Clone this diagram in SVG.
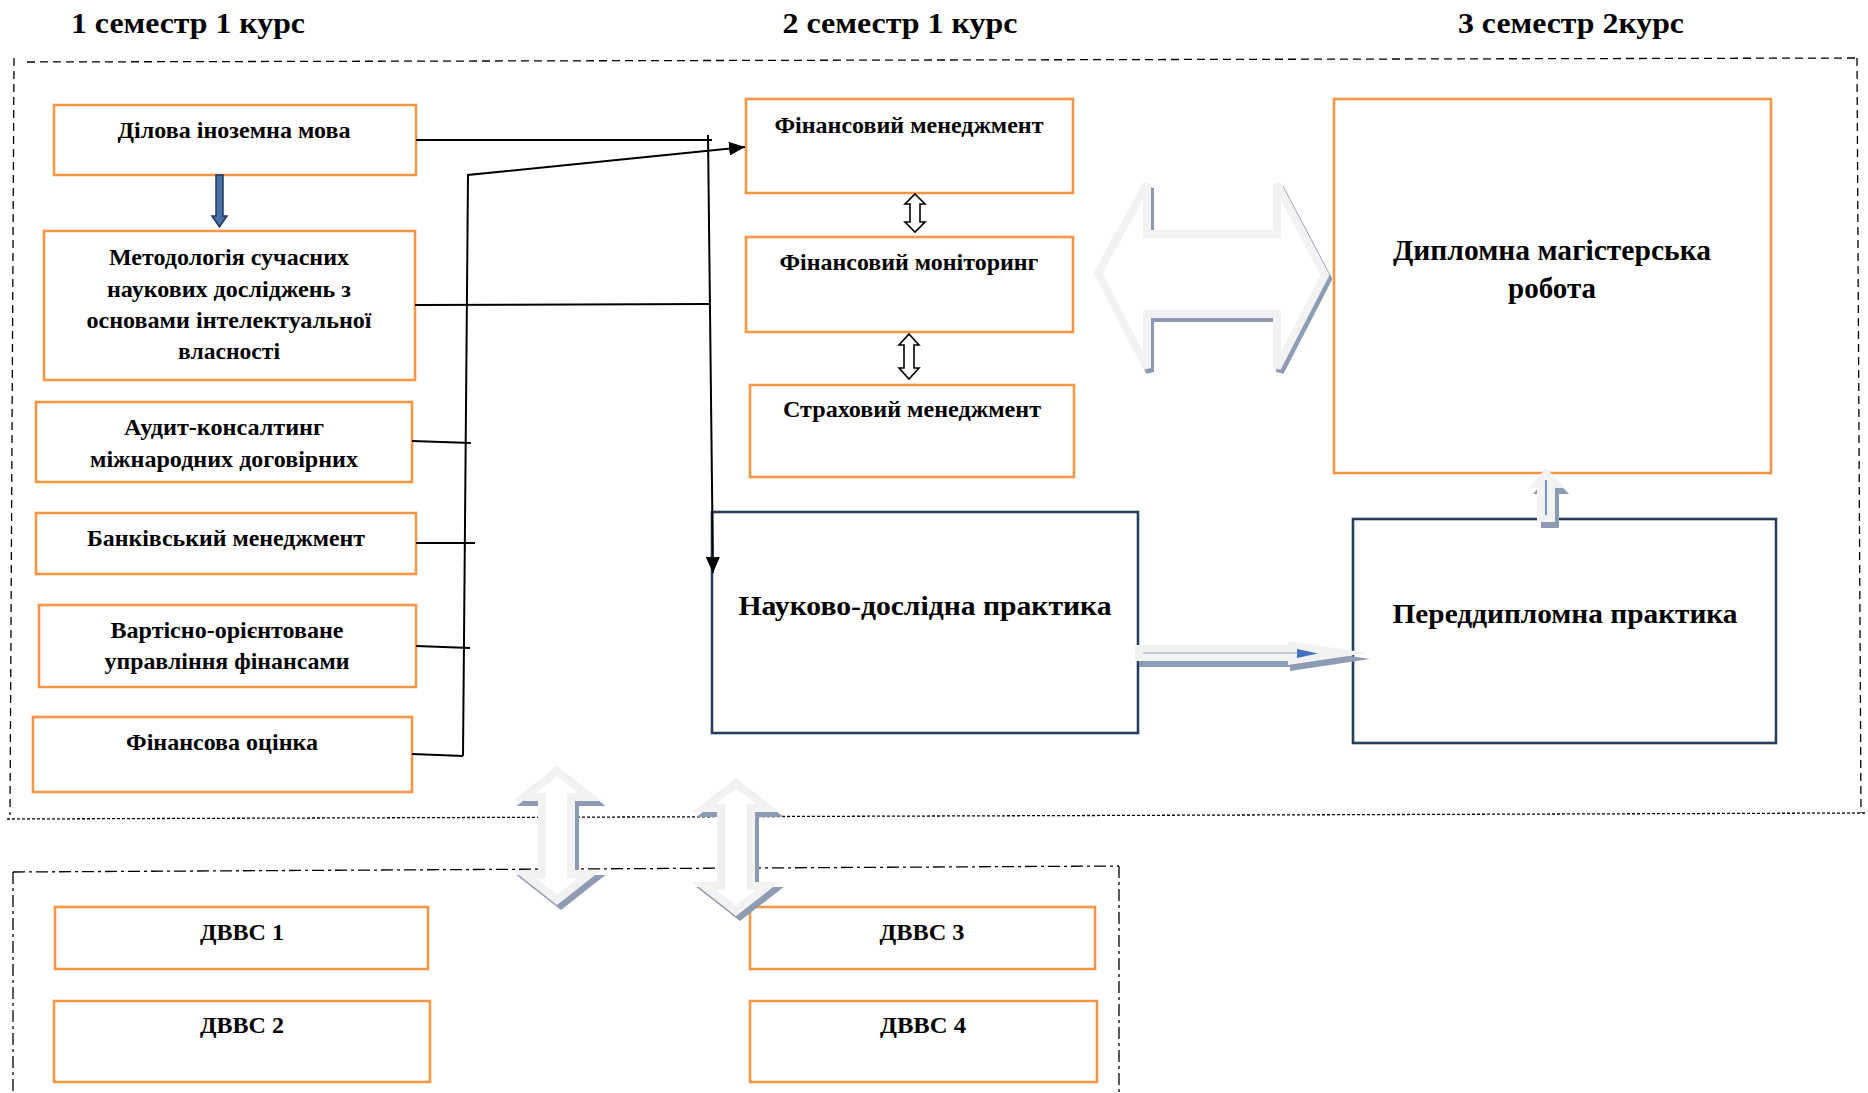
<svg xmlns="http://www.w3.org/2000/svg" width="1868" height="1093" viewBox="0 0 1868 1093">
<defs>
<style>
.t{font-family:"Liberation Serif","Times New Roman",serif;font-weight:bold;fill:#000;text-anchor:middle}
.s{font-size:23px}
.m{font-size:27px}
.h{font-size:30px}
.ob{fill:#fff;stroke:#F79646;stroke-width:2.6}
.nb{fill:#fff;stroke:#243F60;stroke-width:2.6}
.ln{fill:none;stroke:#000;stroke-width:2}
.gh{fill:#fff;stroke:#F2F2F2;stroke-width:8;stroke-linejoin:miter}
.gs{fill:none;stroke:#8D9BB3;stroke-width:8;stroke-linejoin:miter}
.frame{fill:none;stroke:#000;stroke-width:1.3}
</style>
<marker id="ah" viewBox="0 0 16 14" refX="16" refY="7" markerWidth="16" markerHeight="14" markerUnits="userSpaceOnUse" orient="auto">
<path d="M0,0 L16,7 L0,14 Z" fill="#000"/>
</marker>
</defs>
<rect width="1868" height="1093" fill="#fff"/>

<g id="frames">
<line class="frame" x1="27" y1="62" x2="1857" y2="58" stroke-dasharray="8 5"/>
<line class="frame" x1="14" y1="58" x2="10" y2="815" stroke-dasharray="8 5"/>
<line class="frame" x1="1857" y1="58" x2="1861" y2="813" stroke-dasharray="8 5"/>
<line class="frame" x1="7" y1="819" x2="1865" y2="813" stroke-dasharray="3 2"/>
<line class="frame" x1="13" y1="872" x2="1119" y2="866" stroke-dasharray="12 4 3 4"/>
<line class="frame" x1="13" y1="872" x2="13" y2="1093" stroke-dasharray="12 4 3 4"/>
<line class="frame" x1="1119" y1="866" x2="1119" y2="1093" stroke-dasharray="12 4 3 4"/>
</g>

<g id="titles">
<text class="t h" x="188" y="33" textLength="234" lengthAdjust="spacingAndGlyphs">1 семестр 1 курс</text>
<text class="t h" x="900" y="33" textLength="235" lengthAdjust="spacingAndGlyphs">2 семестр 1 курс</text>
<text class="t h" x="1571" y="33" textLength="226" lengthAdjust="spacingAndGlyphs">3 семестр 2курс</text>
</g>

<g id="n-dilova">
<rect class="ob" x="54" y="105" width="362" height="70"/>
<text class="t s" x="234" y="138" textLength="233" lengthAdjust="spacingAndGlyphs">Ділова іноземна мова</text>
</g>
<g id="n-metod">
<rect class="ob" x="44" y="231" width="371" height="149"/>
<text class="t s" x="229" y="265" textLength="240" lengthAdjust="spacingAndGlyphs">Методологія сучасних</text>
<text class="t s" x="229" y="297" textLength="244" lengthAdjust="spacingAndGlyphs">наукових досліджень з</text>
<text class="t s" x="229" y="328" textLength="285" lengthAdjust="spacingAndGlyphs">основами інтелектуальної</text>
<text class="t s" x="229" y="359" textLength="102" lengthAdjust="spacingAndGlyphs">власності</text>
</g>
<g id="n-audit">
<rect class="ob" x="36" y="402" width="376" height="80"/>
<text class="t s" x="224" y="435" textLength="200" lengthAdjust="spacingAndGlyphs">Аудит-консалтинг</text>
<text class="t s" x="224" y="467" textLength="268" lengthAdjust="spacingAndGlyphs">міжнародних договірних</text>
</g>
<g id="n-bank">
<rect class="ob" x="36" y="513" width="380" height="61"/>
<text class="t s" x="226" y="546" textLength="278" lengthAdjust="spacingAndGlyphs">Банківський менеджмент</text>
</g>
<g id="n-vart">
<rect class="ob" x="39" y="605" width="377" height="82"/>
<text class="t s" x="227" y="638" textLength="233" lengthAdjust="spacingAndGlyphs">Вартісно-орієнтоване</text>
<text class="t s" x="227" y="669" textLength="245" lengthAdjust="spacingAndGlyphs">управління фінансами</text>
</g>
<g id="n-ocinka">
<rect class="ob" x="33" y="717" width="379" height="75"/>
<text class="t s" x="222" y="750" textLength="192" lengthAdjust="spacingAndGlyphs">Фінансова оцінка</text>
</g>
<g id="n-finman">
<rect class="ob" x="746" y="99" width="327" height="94"/>
<text class="t s" x="909" y="133" textLength="269" lengthAdjust="spacingAndGlyphs">Фінансовий менеджмент</text>
</g>
<g id="n-finmon">
<rect class="ob" x="746" y="237" width="327" height="95"/>
<text class="t s" x="909" y="270" textLength="259" lengthAdjust="spacingAndGlyphs">Фінансовий моніторинг</text>
</g>
<g id="n-strakh">
<rect class="ob" x="750" y="385" width="324" height="92"/>
<text class="t s" x="912" y="417" textLength="258" lengthAdjust="spacingAndGlyphs">Страховий менеджмент</text>
</g>
<g id="n-dyplom">
<rect class="ob" x="1334" y="99" width="437" height="374"/>
<text class="t h" x="1552" y="260" font-size="29" textLength="318" lengthAdjust="spacingAndGlyphs">Дипломна магістерська</text>
<text class="t h" x="1552" y="298" font-size="29" textLength="88" lengthAdjust="spacingAndGlyphs">робота</text>
</g>
<g id="n-naukovo">
<rect class="nb" x="712" y="512" width="426" height="221"/>
<text class="t m" x="925" y="615" textLength="373" lengthAdjust="spacingAndGlyphs">Науково-дослідна практика</text>
</g>
<g id="n-peredd">
<rect class="nb" x="1353" y="519" width="423" height="224"/>
<text class="t m" x="1565" y="623" textLength="345" lengthAdjust="spacingAndGlyphs">Переддипломна практика</text>
</g>
<g id="n-dvvs1">
<rect class="ob" x="55" y="907" width="373" height="62"/>
<text class="t s" x="242" y="940" textLength="84" lengthAdjust="spacingAndGlyphs">ДВВС 1</text>
</g>
<g id="n-dvvs2">
<rect class="ob" x="54" y="1001" width="376" height="81"/>
<text class="t s" x="242" y="1033" textLength="84" lengthAdjust="spacingAndGlyphs">ДВВС 2</text>
</g>
<g id="n-dvvs3">
<rect class="ob" x="750" y="907" width="345" height="62"/>
<text class="t s" x="922" y="940" textLength="85" lengthAdjust="spacingAndGlyphs">ДВВС 3</text>
</g>
<g id="n-dvvs4">
<rect class="ob" x="750" y="1001" width="347" height="81"/>
<text class="t s" x="923" y="1033" textLength="86" lengthAdjust="spacingAndGlyphs">ДВВС 4</text>
</g>

<g id="connectors">
<line class="ln" x1="416" y1="140" x2="712" y2="140"/>
<line class="ln" x1="415" y1="305" x2="709" y2="304"/>
<line class="ln" x1="708" y1="135" x2="713" y2="573" marker-end="url(#ah)"/>
<polyline class="ln" points="463,756 468,175 745,147" marker-end="url(#ah)"/>
<line class="ln" x1="412" y1="441" x2="471" y2="443"/>
<line class="ln" x1="416" y1="543" x2="475" y2="543"/>
<line class="ln" x1="416" y1="646" x2="470" y2="648"/>
<line class="ln" x1="412" y1="754" x2="463" y2="756"/>
<polygon points="216,175 223,175 223,216 227,216 219.5,227 212,216 216,216" fill="#4A6FA5" stroke="#1F3864" stroke-width="1.5"/>
<path d="M915,194 L925,204 L920,204 L920,222 L925,222 L915,232 L905,222 L910,222 L910,204 L905,204 Z" fill="#fff" stroke="#000" stroke-width="1.6"/>
<path d="M909,334 L919,345 L914,345 L914,368 L919,368 L909,379 L899,368 L904,368 L904,345 L899,345 Z" fill="#fff" stroke="#000" stroke-width="1.6"/>
<g id="big-lr-arrow">
<path class="gs" transform="translate(3,4)" d="M1098,273 L1147,184 L1147,234 L1277,234 L1277,184 L1325,275 L1277,368 L1277,314 L1147,314 L1147,368 Z"/>
<path class="gh" d="M1098,273 L1147,184 L1147,234 L1277,234 L1277,184 L1325,275 L1277,368 L1277,314 L1147,314 L1147,368 Z"/>
</g>
<g id="arrow-nd-pd">
<path transform="translate(2,6)" d="M1137,645 L1288,645 L1288,641 L1368,653 L1288,665 L1288,661 L1137,661 Z" fill="#8D9BB3"/>
<path d="M1135,645 L1288,645 L1288,641 L1368,653 L1288,665 L1288,661 L1135,661 Z" fill="#F2F2F2"/>
<line x1="1143" y1="653" x2="1298" y2="653" stroke="#B4C2D9" stroke-width="1.5"/>
<polygon points="1297,649 1318,653.5 1297,658" fill="#4472C4"/>
</g>
<g id="arrow-pd-dip">
<path transform="translate(4,6)" d="M1546,468 L1565,488 L1555,488 L1555,522 L1537,522 L1537,488 L1529,488 Z" fill="#8D9BB3"/>
<path d="M1546,468 L1565,488 L1555,488 L1555,522 L1537,522 L1537,488 L1529,488 Z" fill="#F2F2F2"/>
<line x1="1546" y1="480" x2="1546" y2="515" stroke="#4472C4" stroke-width="1.5"/>
</g>
<g id="dvvs-arrow-1">
<path class="gs" transform="translate(4,5)" d="M557,771 L590,797 L571,797 L571,874 L590,874 L557,900 L524,874 L542,874 L542,797 L524,797 Z"/>
<path class="gh" d="M557,771 L590,797 L571,797 L571,874 L590,874 L557,900 L524,874 L542,874 L542,797 L524,797 Z"/>
</g>
<g id="dvvs-arrow-2">
<path class="gs" transform="translate(4,5)" d="M736,783 L768,808 L751,808 L751,886 L768,886 L736,911 L704,886 L721,886 L721,808 L704,808 Z"/>
<path class="gh" d="M736,783 L768,808 L751,808 L751,886 L768,886 L736,911 L704,886 L721,886 L721,808 L704,808 Z"/>
</g>
</g>
</svg>
